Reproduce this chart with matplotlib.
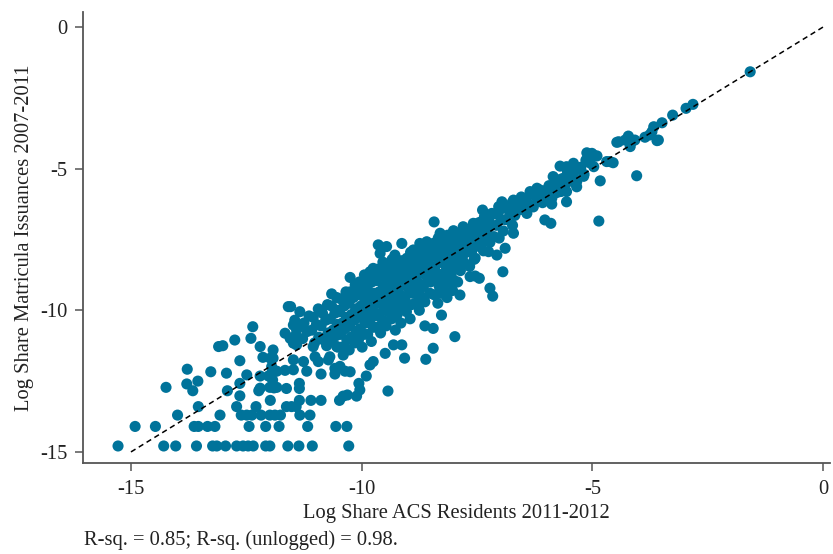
import numpy as np
import matplotlib.pyplot as plt

plt.rcParams['font.family'] = ['Liberation Serif', 'DejaVu Serif']

# Log share ACS residents (x) vs log share matricula issuances (y)
# low-count counties: quantized rows at the bottom left
low_pts = [
    (-15.28, -14.79), (-14.29, -14.79), (-14.03, -14.79), (-13.58, -14.79), (-13.23, -14.79),
    (-13.14, -14.79), (-12.95, -14.79), (-12.71, -14.79), (-12.57, -14.79), (-12.46, -14.79),
    (-12.35, -14.79), (-12.08, -14.79), (-11.99, -14.79), (-11.60, -14.79), (-11.36, -14.79),
    (-11.07, -14.79), (-10.28, -14.79),
    (-14.91, -14.10), (-14.47, -14.10), (-13.63, -14.10), (-13.54, -14.10), (-13.34, -14.10),
    (-13.18, -14.10), (-12.44, -14.10), (-12.08, -14.10), (-11.79, -14.10), (-11.17, -14.10),
    (-10.56, -14.10), (-10.32, -14.10),
    (-13.99, -13.70), (-13.07, -13.70), (-12.61, -13.70), (-12.49, -13.70), (-12.38, -13.70),
    (-12.18, -13.70), (-11.99, -13.70), (-11.88, -13.70), (-11.76, -13.70), (-11.34, -13.70),
    (-11.12, -13.70),
    (-13.54, -13.40), (-12.71, -13.40), (-12.29, -13.40), (-11.63, -13.40), (-11.52, -13.40),
    (-11.42, -13.40),
    (-11.98, -13.18), (-11.35, -13.18), (-11.10, -13.18), (-10.88, -13.18), (-10.48, -13.18),
    (-12.64, -13.02), (-10.40, -13.03), (-10.31, -12.99), (-10.11, -13.03),
    (-13.66, -12.84), (-12.91, -12.84), (-12.23, -12.84), (-10.04, -12.81), (-9.43, -12.85),
    (-14.24, -12.72), (-12.20, -12.75), (-11.99, -12.72), (-11.90, -12.74), (-11.84, -12.72),
    (-11.63, -12.76), (-11.35, -12.76),
    (-13.79, -12.60), (-12.64, -12.58), (-11.35, -12.58), (-10.06, -12.58), (-13.55, -12.50),
    (-12.49, -12.28), (-12.20, -12.32), (-9.90, -12.32), (-13.27, -12.17), (-12.93, -12.22),
    (-12.02, -12.32), (-11.95, -12.22), (-11.84, -12.15), (-11.66, -12.12), (-11.48, -12.10),
    (-11.19, -12.15), (-10.88, -12.25), (-10.58, -12.25), (-10.36, -12.15), (-10.25, -12.17),
    (-10.58, -12.05), (-10.47, -11.98), (-11.95, -11.99), (-11.93, -12.46), (-13.78, -12.08),
    (-12.64, -11.78), (-12.14, -11.66), (-11.98, -11.69), (-11.92, -11.69), (-11.92, -11.40),
    (-11.48, -11.75), (-11.26, -11.81), (-11.01, -11.64), (-10.94, -11.81), (-10.72, -11.75),
    (-10.69, -11.64), (-10.40, -11.58), (-10.54, -11.28), (-9.82, -11.93), (-9.75, -11.81),
    (-9.49, -11.52), (-9.31, -11.22), (-9.13, -11.22), (-9.07, -11.69), (-8.61, -11.73),
    (-8.45, -11.34),
    (-13.10, -11.28), (-13.01, -11.25), (-12.75, -11.05), (-12.40, -10.99), (-12.36, -10.58),
    (-12.20, -11.28), (-11.66, -10.81), (-11.55, -10.99), (-11.41, -10.93), (-11.41, -11.22),
    (-11.48, -11.16), (-11.48, -10.52), (-11.41, -10.70), (-11.59, -9.87), (-11.54, -9.87),
    (-11.05, -11.28),
]

# main cloud, read column by column
band_cols = [
    ([-11.34, -11.45, -11.38, -11.48], [-10.05, -10.35, -10.6, -10.95]),
    ([-11.14, -11.25, -11.18, -11.28], [-10.2, -10.45, -10.75, -11.0]),
    ([-10.94, -11.05, -10.98, -11.08, -10.93, -11.02], [-9.95, -10.25, -10.5, -10.7, -10.95, -11.15]),
    ([-10.74, -10.85, -10.78, -10.88, -10.73, -10.82, -10.76],
     [-9.8, -10.1, -10.35, -10.55, -10.8, -11.05, -11.25]),
    ([-10.54, -10.65, -10.58, -10.68, -10.53, -10.62, -10.56, -10.66, -10.52],
     [-9.55, -9.85, -10.1, -10.3, -10.5, -10.7, -10.9, -11.1, -11.3]),
    ([-10.34, -10.45, -10.38, -10.48, -10.33, -10.42, -10.36, -10.46, -10.32, -10.43],
     [-9.35, -9.6, -9.85, -10.05, -10.25, -10.45, -10.65, -10.85, -11.05, -11.3]),
    ([-10.14, -10.25, -10.18, -10.28, -10.13, -10.22, -10.16, -10.26, -10.12, -10.23, -10.15, -10.27],
     [-9.1, -9.35, -9.55, -9.75, -9.95, -10.15, -10.35, -10.55, -10.75, -10.95, -11.15, -11.4]),
    ([-9.94, -10.05, -9.98, -10.08, -9.93, -10.02, -9.96, -10.06, -9.92, -10.03, -9.95, -10.07, -9.99],
     [-8.75, -9.0, -9.25, -9.45, -9.65, -9.85, -10.05, -10.25, -10.45, -10.65, -10.85, -11.05, -11.3]),
    ([-9.74, -9.85, -9.78, -9.88, -9.73, -9.82, -9.76, -9.86, -9.72, -9.83, -9.75, -9.87, -9.79],
     [-8.55, -8.8, -9.0, -9.2, -9.4, -9.6, -9.8, -10.0, -10.2, -10.4, -10.6, -10.85, -11.1]),
    ([-9.54, -9.65, -9.58, -9.68, -9.53, -9.62, -9.56, -9.66, -9.52, -9.63, -9.55, -9.67, -9.59],
     [-8.3, -8.55, -8.75, -8.95, -9.15, -9.35, -9.55, -9.75, -9.95, -10.15, -10.35, -10.6, -10.8]),
    ([-9.34, -9.45, -9.38, -9.48, -9.33, -9.42, -9.36, -9.46, -9.32, -9.43, -9.35, -9.47],
     [-8.2, -8.45, -8.65, -8.85, -9.05, -9.25, -9.45, -9.65, -9.85, -10.05, -10.3, -10.55]),
    ([-9.14, -9.25, -9.18, -9.28, -9.13, -9.22, -9.16, -9.26, -9.12, -9.23, -9.15, -9.27],
     [-8.25, -8.45, -8.65, -8.85, -9.05, -9.25, -9.45, -9.65, -9.9, -10.15, -10.45, -10.7]),
    ([-8.94, -9.05, -8.98, -9.08, -8.93, -9.02, -8.96, -9.06, -8.92, -9.03, -8.95],
     [-7.95, -8.35, -8.55, -8.75, -8.95, -9.15, -9.35, -9.55, -9.8, -10.05, -10.3]),
    ([-8.74, -8.85, -8.78, -8.88, -8.73, -8.82, -8.76, -8.86, -8.72, -8.83, -8.75],
     [-7.8, -8.05, -8.25, -8.45, -8.65, -8.85, -9.05, -9.25, -9.5, -9.75, -10.0]),
    ([-8.54, -8.65, -8.58, -8.68, -8.53, -8.62, -8.56, -8.66, -8.52, -8.63],
     [-7.75, -7.95, -8.15, -8.35, -8.55, -8.75, -8.95, -9.15, -9.4, -9.7]),
    ([-8.34, -8.45, -8.38, -8.48, -8.33, -8.42, -8.36, -8.46, -8.32, -8.43, -8.35],
     [-7.45, -7.7, -7.9, -8.1, -8.3, -8.5, -8.7, -8.9, -9.15, -9.45, -9.75]),
    ([-8.14, -8.25, -8.18, -8.28, -8.13, -8.22, -8.16, -8.26, -8.12, -8.23, -8.15],
     [-7.35, -7.55, -7.75, -7.95, -8.15, -8.35, -8.55, -8.75, -9.0, -9.25, -9.55]),
    ([-7.94, -8.05, -7.98, -8.08, -7.93, -8.02, -7.96, -8.06, -7.92, -8.03],
     [-7.3, -7.5, -7.7, -7.9, -8.1, -8.3, -8.5, -8.7, -9.0, -9.3]),
    ([-7.74, -7.85, -7.78, -7.88, -7.73, -7.82, -7.76, -7.86],
     [-7.15, -7.35, -7.55, -7.75, -7.95, -8.15, -8.35, -8.6]),
    ([-7.54, -7.65, -7.58, -7.68, -7.53, -7.62, -7.56, -7.66],
     [-6.95, -7.15, -7.35, -7.55, -7.75, -7.95, -8.2, -8.45]),
    ([-7.34, -7.45, -7.38, -7.48, -7.33, -7.42, -7.36], [-6.7, -6.9, -7.1, -7.3, -7.5, -7.7, -7.9]),
    ([-7.14, -7.25, -7.18, -7.28, -7.13, -7.22], [-6.6, -6.8, -7.0, -7.2, -7.4, -7.6]),
    ([-6.94, -7.05, -6.98, -7.08, -6.93, -7.02], [-6.4, -6.6, -6.8, -7.0, -7.2, -7.45]),
    ([-6.74, -6.85, -6.78, -6.88, -6.73], [-6.2, -6.4, -6.6, -6.8, -7.0]),
    ([-6.54, -6.65, -6.58, -6.68], [-6.0, -6.25, -6.45, -6.65]),
    ([-6.34, -6.45, -6.38, -6.48], [-5.85, -6.05, -6.25, -6.45]),
    ([-6.14, -6.25, -6.18, -6.28], [-5.75, -5.95, -6.15, -6.35]),
    ([-5.94, -6.05, -5.98, -6.08], [-5.6, -5.8, -6.0, -6.2]),
    ([-5.74, -5.85, -5.78, -5.88], [-5.4, -5.6, -5.85, -6.05]),
    ([-5.54, -5.65, -5.58, -5.68], [-5.1, -5.35, -5.55, -5.8]),
    ([-5.34, -5.45, -5.38], [-5.0, -5.25, -5.5]),
    ([-5.14, -5.25, -5.18], [-4.7, -4.95, -5.2]),
    ([-4.94, -5.05], [-4.55, -4.8]),
]

# extra points filling the densest part of the cloud
core_pts = [
    (-9.9, -9.1), (-9.88, -9.55), (-9.91, -10.15), (-9.69, -8.85), (-9.71, -9.5),
    (-9.7, -10.1), (-9.49, -8.6), (-9.51, -9.3), (-9.5, -9.9), (-9.3, -8.75),
    (-9.29, -9.35), (-9.31, -9.95), (-9.09, -8.45), (-9.1, -9.05), (-9.11, -9.7),
    (-8.9, -8.15), (-8.91, -8.75), (-8.89, -9.4), (-8.69, -8.05), (-8.7, -8.6),
    (-8.71, -9.2), (-8.5, -7.85), (-8.49, -8.45), (-8.51, -9.0), (-8.29, -7.65),
    (-8.3, -8.25), (-8.31, -8.85), (-8.1, -7.6), (-8.09, -8.05), (-8.11, -8.6),
    (-7.9, -7.4), (-7.91, -7.85), (-7.89, -8.4), (-7.7, -7.25), (-7.69, -7.7),
    (-7.5, -7.05), (-7.49, -7.6), (-7.3, -6.85), (-7.29, -7.35), (-10.1, -9.4),
    (-10.11, -10.0), (-10.31, -9.7), (-10.29, -10.35), (-10.5, -10.0), (-10.49, -10.6),
]

# upper edge of the cloud
edge_pts = [
    (-10.65, -9.42), (-10.25, -8.84), (-10.04, -9.17), (-9.82, -8.64), (-9.75, -8.52),
    (-9.64, -7.69), (-9.60, -7.99), (-9.46, -7.75), (-9.28, -8.05), (-9.13, -7.64),
    (-9.02, -8.16), (-8.88, -7.87), (-8.74, -7.64), (-8.59, -7.58), (-8.45, -7.64),
    (-8.30, -7.28), (-8.16, -7.40), (-8.01, -7.19), (-8.43, -6.88), (-7.80, -7.05),
    (-7.58, -6.93), (-7.38, -6.46), (-7.18, -6.58), (-7.03, -6.34), (-6.96, -6.17),
    (-6.75, -6.46), (-6.71, -6.11), (-6.57, -6.22), (-6.42, -6.34), (-6.42, -6.58),
    (-6.35, -5.81), (-6.20, -5.69), (-6.13, -5.93), (-5.99, -5.75), (-5.85, -5.28),
    (-5.77, -5.40), (-5.70, -4.91), (-5.56, -4.93), (-5.41, -4.81), (-5.56, -5.28),
    (-5.63, -5.52), (-5.41, -5.16), (-5.34, -5.64), (-5.56, -5.81), (-5.70, -5.81),
]

# points below the cloud on the right side
out_pts = [
    (-7.98, -10.93), (-8.63, -10.55), (-8.45, -10.64), (-8.27, -10.17), (-7.87, -9.46),
    (-7.65, -8.81), (-7.54, -8.79), (-7.45, -8.87), (-7.22, -9.22), (-7.16, -9.50),
    (-6.94, -8.64), (-6.89, -7.81), (-6.71, -7.28), (-5.90, -6.93), (-6.03, -6.81),
    (-5.88, -6.25), (-5.56, -6.17), (-4.86, -6.85), (-4.83, -5.43), (-4.04, -5.25),
    (-8.01, -8.93), (-8.30, -9.17), (-8.27, -9.40), (-7.54, -8.16), (-7.25, -7.93),
    (-7.07, -8.05),
]

# largest counties, top right
top_pts = [
    (-5.12, -4.44), (-5.01, -4.46), (-4.90, -4.55), (-4.97, -4.93), (-4.69, -4.75),
    (-4.55, -4.79), (-4.62, -4.75), (-4.47, -4.07), (-4.43, -4.05), (-4.29, -3.99),
    (-4.22, -3.85), (-4.15, -4.05), (-4.08, -3.99), (-4.18, -4.22), (-3.86, -3.89),
    (-3.76, -3.81), (-3.71, -3.70), (-3.67, -3.52), (-3.60, -4.01), (-3.57, -3.99),
    (-3.49, -3.38), (-3.26, -3.11), (-2.97, -2.87), (-2.82, -2.73), (-1.58, -1.58),
    (-5.19, -5.27), (-5.34, -5.46), (-5.63, -5.64),
]

fit_line = [-15, 0]
x_ticks = [-15, -10, -5, 0]
y_ticks = [0, -5, -10, -15]
note = "R-sq. = 0.85; R-sq. (unlogged) = 0.98."

pts = low_pts + core_pts + edge_pts + out_pts + top_pts
xs = [p[0] for p in pts]
ys = [p[1] for p in pts]
for cx, cy in band_cols:
    xs += cx
    ys += cy

fig = plt.figure(figsize=(8.33, 5.54), dpi=100)
ax = fig.add_axes([0.0996, 0.1643, 0.8968, 0.814])

ax.scatter(xs, ys, s=64, color='#00739a', edgecolors='none', zorder=2)
ax.plot(fit_line, fit_line, color='black', linestyle=(0, (3.5, 2.5)), linewidth=1.1, zorder=3)

ax.set_xlim(-16.04, 0.15)
ax.set_ylim(-15.39, 0.53)
ax.set_xticks(x_ticks)
ax.set_yticks(y_ticks)
ax.set_xticklabels([str(t) for t in x_ticks])
ax.set_yticklabels([str(t) for t in y_ticks])

for side in ['top', 'right']:
    ax.spines[side].set_visible(False)
for side in ['left', 'bottom']:
    ax.spines[side].set_color('#555555')
    ax.spines[side].set_linewidth(1.3)
ax.tick_params(axis='both', direction='out', length=6, width=1.1, color='#555555',
               labelsize=14.8, labelcolor='#222222')
ax.tick_params(axis='x', pad=6)
ax.tick_params(axis='y', pad=5)

ax.set_xlabel("Log Share ACS Residents 2011-2012", fontsize=14.8, color='#222222')
ax.set_ylabel("Log Share Matricula Issuances 2007-2011", fontsize=14.8, color='#222222')
ax.xaxis.set_label_coords(0.5, -0.09)
ax.yaxis.set_label_coords(-0.066, 0.5)

fig.text(0.101, 0.0253, note, fontsize=14.8, color='#222222', va='center', ha='left')

fig.savefig('out.png', dpi=100)
